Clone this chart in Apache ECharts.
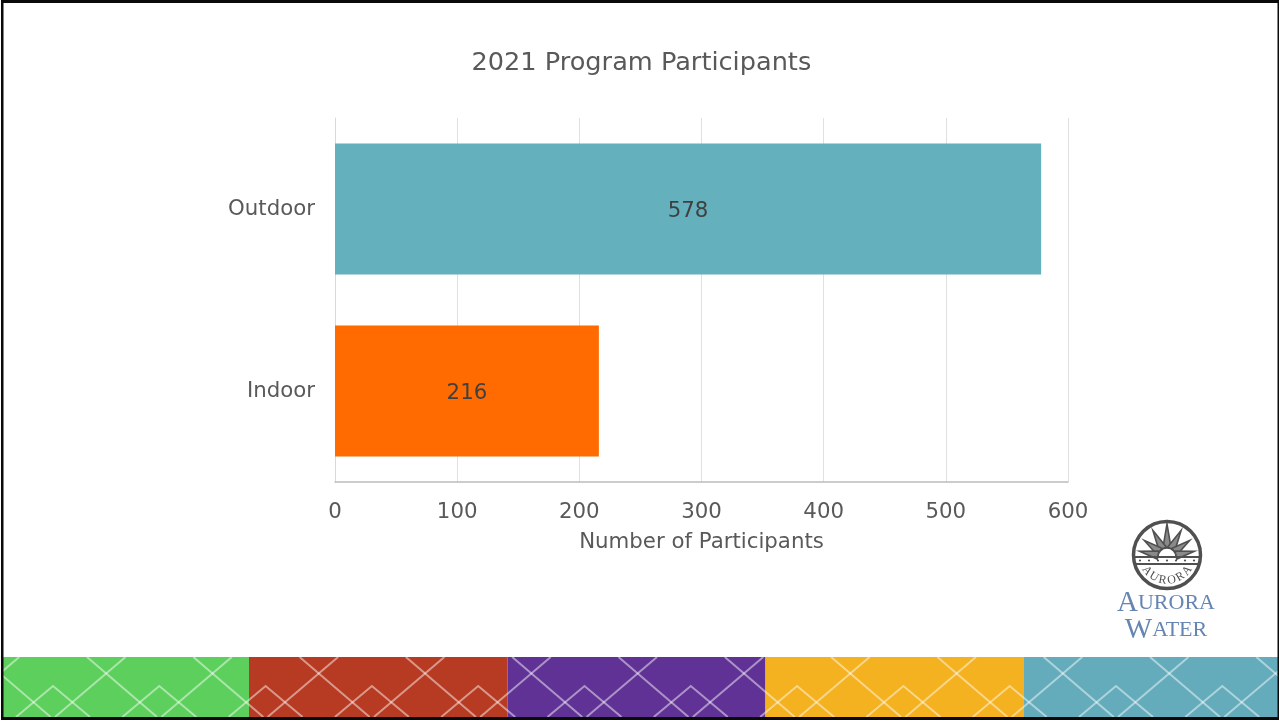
<!DOCTYPE html>
<html>
<head>
<meta charset="utf-8">
<title>2021 Program Participants</title>
<style>
    html, body { margin: 0; padding: 0; background: #fff; }
    #main { width: 1279px; height: 721px; }
</style>
<script src="https://cdn.jsdelivr.net/npm/echarts@6/dist/echarts.min.js"></script>
</head>
<body>
<div id="main"></div>
<script>
var categories = ['Indoor', 'Outdoor'];
var participants = [216, 578];
var barColors = ['#ff6b00', '#64b0bd'];
var xTicks = [0, 100, 200, 300, 400, 500, 600];

var FONT = '"DejaVu Sans", Verdana, sans-serif';
var TEXT = '#595959';

var chart = echarts.init(document.getElementById('main'));

// footer strip: coloured blocks with the lattice drawn over them
var bands = [
    { x: 3, w: 246, c: '#5dcf5c' },
    { x: 249, w: 258.5, c: '#b73b23' },
    { x: 507.5, w: 258, c: '#603295' },
    { x: 765.5, w: 258.5, c: '#f4b120' },
    { x: 1024, w: 255, c: '#64acbb' }
];
var graphics = [];
bands.forEach(function (b) {
    graphics.push({ type: 'rect', shape: { x: b.x, y: 657, width: b.w, height: 61 }, style: { fill: b.c }, z: 1 });
});

var period = 106.3;
var latticeStyle = { stroke: 'rgba(255,255,255,0.48)', lineWidth: 2, fill: null };
for (var k = -1; k < 13; k++) {
    var o = k * period;
    graphics.push({ type: 'line', shape: { x1: 87 + o, y1: 657, x2: 157 + o, y2: 717 }, style: latticeStyle, z: 2 });
    graphics.push({ type: 'line', shape: { x1: 125.5 + o, y1: 657, x2: 55 + o, y2: 717 }, style: latticeStyle, z: 2 });
    graphics.push({ type: 'polyline', shape: { points: [[16 + o, 717], [53 + o, 686], [90 + o, 717]] }, style: latticeStyle, z: 2 });
}

// slide frame, uneven like the screenshot
var frame = '#0a0a0a';
graphics.push({ type: 'rect', shape: { x: 1, y: 0, width: 1278, height: 3 }, style: { fill: frame }, z: 4 });
graphics.push({ type: 'rect', shape: { x: 1, y: 0, width: 2.5, height: 720 }, style: { fill: frame }, z: 4 });
graphics.push({ type: 'rect', shape: { x: 1277.5, y: 0, width: 1.5, height: 720 }, style: { fill: frame }, z: 4 });
graphics.push({ type: 'rect', shape: { x: 1, y: 717, width: 1278, height: 3 }, style: { fill: frame }, z: 4 });

// logo seal
var cx = 1167, cy = 555, ringColor = '#505050';
graphics.push({ type: 'circle', shape: { cx: cx, cy: cy, r: 33.5 }, style: { fill: '#fff', stroke: ringColor, lineWidth: 3.5 }, z: 5 });

var rayAngles = [-90, -62, -118, -36, -144, -12, -168];
rayAngles.forEach(function (a, i) {
    var rad = a * Math.PI / 180;
    var len = i === 0 ? 33 : (i < 3 ? 30 : 28);
    var tip = [cx + len * Math.cos(rad), 557 + len * Math.sin(rad)];
    var spread = 0.42;
    graphics.push({
        type: 'polygon',
        shape: { points: [
            tip,
            [cx + 10 * Math.cos(rad - spread), 557 + 10 * Math.sin(rad - spread)],
            [cx + 10 * Math.cos(rad + spread), 557 + 10 * Math.sin(rad + spread)]
        ] },
        style: { fill: '#8a8a8a', stroke: ringColor, lineWidth: 1.6 },
        z: 6
    });
});
graphics.push({ type: 'sector', shape: { cx: cx, cy: 557, r: 9, startAngle: Math.PI, endAngle: 2 * Math.PI }, style: { fill: '#fff', stroke: ringColor, lineWidth: 1.4 }, z: 7 });
graphics.push({ type: 'line', shape: { x1: cx - 32, y1: 557, x2: cx + 32, y2: 557 }, style: { stroke: ringColor, lineWidth: 1.8 }, z: 7 });
graphics.push({ type: 'line', shape: { x1: cx - 31, y1: 564, x2: cx + 31, y2: 564 }, style: { stroke: ringColor, lineWidth: 1.8 }, z: 7 });
for (var d = -3; d <= 3; d++) {
    graphics.push({ type: 'circle', shape: { cx: cx + d * 9, cy: 560.5, r: 1.1 }, style: { fill: ringColor }, z: 7 });
}
'AURORA'.split('').forEach(function (ch, i) {
    var deg = -52 + i * 20.8;
    var rad = (90 - deg) * Math.PI / 180;
    graphics.push({
        type: 'text',
        x: cx + 25.5 * Math.cos(rad),
        y: cy + 25.5 * Math.sin(rad),
        rotation: deg * Math.PI / 180,
        style: { text: ch, font: '12px "Liberation Serif", serif', fill: ringColor, align: 'center', verticalAlign: 'middle' },
        z: 7
    });
});

// logo wordmark
var wordColor = '#6585b2';
function wordmark(first, rest, y) {
    graphics.push({
        type: 'text', x: 1166, y: y,
        style: {
            text: '{b|' + first + '}{s|' + rest + '}',
            align: 'center', verticalAlign: 'middle',
            rich: {
                b: { font: '29px "Liberation Serif", serif', fill: wordColor },
                s: { font: '22px "Liberation Serif", serif', fill: wordColor }
            }
        },
        z: 5
    });
}
wordmark('A', 'URORA', 603);
wordmark('W', 'ATER', 630);

var option = {
    animation: false,
    backgroundColor: '#fff',
    textStyle: { fontFamily: FONT },
    title: {
        text: '2021 Program Participants',
        left: 466.5,
        top: 45,
        textStyle: { color: TEXT, fontFamily: FONT, fontSize: 25.6, fontWeight: 'normal' }
    },
    grid: { left: 335, right: 211, top: 118, bottom: 239 },
    xAxis: {
        type: 'value',
        min: xTicks[0],
        max: xTicks[xTicks.length - 1],
        interval: 100,
        name: 'Number of Participants',
        nameLocation: 'middle',
        nameGap: 50,
        nameTextStyle: { color: TEXT, fontFamily: FONT, fontSize: 21.3 },
        axisLine: { show: true, lineStyle: { color: '#bcbcbc', width: 1.5 } },
        axisTick: { show: false },
        axisLabel: { color: TEXT, fontFamily: FONT, fontSize: 21.3, margin: 20 },
        splitLine: { show: true, lineStyle: { color: '#e0e0e0', width: 1 } }
    },
    yAxis: {
        type: 'category',
        data: categories,
        axisLine: { show: true, lineStyle: { color: '#d9d9d9', width: 1 } },
        axisTick: { show: false },
        axisLabel: { color: TEXT, fontFamily: FONT, fontSize: 21.3, margin: 20 }
    },
    series: [{
        type: 'bar',
        barCategoryGap: '28%',
        data: participants.map(function (v, i) {
            return { value: v, itemStyle: { color: barColors[i] } };
        }),
        label: {
            show: true,
            position: 'inside',
            offset: [0, 2],
            color: '#404040',
            fontFamily: FONT,
            fontSize: 21.3
        }
    }],
    graphic: { elements: graphics }
};

chart.setOption(option);
</script>
</body>
</html>
